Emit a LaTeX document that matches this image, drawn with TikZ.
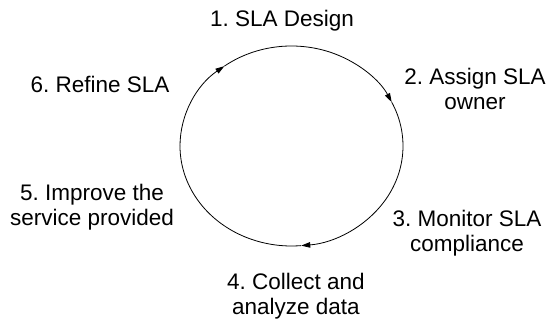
\documentclass[tikz,border=0pt]{standalone}
\usepackage{fontspec}
\setmainfont{Liberation Sans}
\usetikzlibrary{arrows.meta}
\frenchspacing
\begin{document}
\begin{tikzpicture}[x=1pt,y=1pt,
  lbl/.style={align=center, inner sep=0pt, anchor=base, font=\fontsize{22.5}{25}\selectfont},
  cyc/.style={line width=0.8pt},
  tip/.style={-{Triangle[length=9pt,width=5.5pt]}}]
\useasboundingbox (0,0) rectangle (549,323);
% centre of the cycle
\coordinate (c) at (291.5,177);
% the cycle, drawn clockwise in four arcs, three of them ending in an arrowhead
\draw[cyc,tip] (c) ++(180:111.5 and 100) arc[start angle=180,end angle=127,x radius=111.5,y radius=100] coordinate (a1);
\draw[cyc,tip] (a1) arc[start angle=127,end angle=26,x radius=111.5,y radius=100] coordinate (a2);
\draw[cyc,tip] (a2) arc[start angle=26,end angle=-85,x radius=111.5,y radius=100] coordinate (a3);
\draw[cyc] (a3) arc[start angle=-85,end angle=-180,x radius=111.5,y radius=100];
% the six steps (base anchor = baseline of the last line)
\node[lbl] (s1) at (282,296) {1. SLA Design};
\node[lbl] (s2) at (475,213) {2. Assign SLA\\owner};
\node[lbl] (s3) at (467,71) {3. Monitor SLA\\compliance};
\node[lbl] (s4) at (296,8) {4. Collect and\\analyze data};
\node[lbl] (s5) at (92,97) {5. Improve the\\service provided};
\node[lbl] (s6) at (100,230) {6. Refine SLA};
\end{tikzpicture}
\end{document}
